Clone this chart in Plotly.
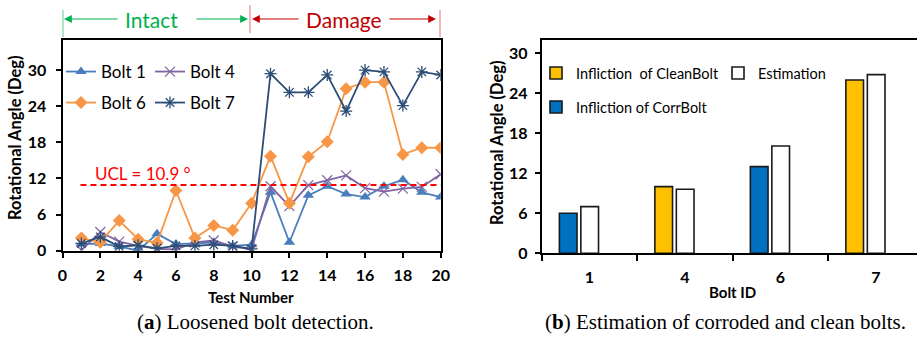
import plotly.graph_objects as go

# ---------------- data: (a) loosened bolt detection ----------------
test_number = list(range(1, 21))
bolt1 = [1.1, 1.2, 0.7, 0.0, 2.8, 1.1, 1.2, 1.4, 0.8, 1.0,
         9.7, 1.4, 9.2, 10.7, 9.4, 8.9, 10.7, 11.8, 9.7, 8.9]
bolt4 = [0.1, 3.1, 1.5, 0.8, 0.3, 0.2, 1.4, 1.7, 0.7, 0.2,
         10.7, 7.4, 10.9, 11.7, 12.5, 10.4, 9.8, 10.3, 10.6, 12.7]
bolt6 = [2.1, 1.4, 5.0, 1.9, 1.3, 10.0, 2.1, 4.2, 3.4, 7.9,
         15.7, 7.9, 15.6, 18.1, 26.9, 28.0, 28.0, 16.0, 17.1, 17.1]
bolt7 = [1.2, 2.3, 0.7, 0.9, 0.4, 0.8, 0.8, 1.0, 0.8, 0.3,
         29.4, 26.3, 26.3, 29.2, 23.2, 30.0, 29.7, 24.1, 29.7, 29.2]
ucl_value = 10.9
ucl_x = [0.95, 20]
left_xticks = list(range(0, 21, 2))
left_yticks = [0, 6, 12, 18, 24, 30]

# ---------------- data: (b) estimation of corroded and clean bolts ----------------
bolt_ids = ["1", "4", "6", "7"]
clean_infl = [None, 10.0, None, 26.0]
corr_infl = [6.0, None, 13.0, None]
estimation = [7.0, 9.6, 16.1, 26.8]
right_yticks = [0, 6, 12, 18, 24, 30]

W, H = 917, 338
def px(x):
    return x / W
def py(y):
    return (H - y) / H

SANS = "Lato, 'Open Sans', sans-serif"
SERIF = "'Liberation Serif', 'DejaVu Serif', serif"

fig = go.Figure()

# ---- left chart series ----
series = [
    ("Bolt 1", bolt1, "#4A7EBB", dict(symbol="triangle-up", size=10, color="#4A7EBB"), "legend"),
    ("Bolt 4", bolt4, "#8064A2", dict(symbol="x-thin-open", size=10, color="#8064A2",
                                      line=dict(width=1.2, color="#8064A2")), "legend"),
    ("Bolt 6", bolt6, "#F79646", dict(symbol="diamond", size=10, color="#F79646"), "legend2"),
    ("Bolt 7", bolt7, "#2C4D75", dict(symbol="asterisk-open", size=10, color="#2C4D75",
                                      line=dict(width=1.3, color="#2C4D75")), "legend2"),
]
for name, vals, col, mk, lg in series:
    fig.add_trace(go.Scatter(
        x=test_number, y=vals, name=name, mode="lines+markers",
        line=dict(color=col, width=1.8), marker=mk,
        xaxis="x", yaxis="y", legend=lg))

fig.add_trace(go.Scatter(
    x=ucl_x, y=[ucl_value, ucl_value], mode="lines", showlegend=False,
    line=dict(color="#FF0000", width=2, dash="6px,4px"), xaxis="x", yaxis="y"))

# ---- right chart bars ----
bw = 0.185
fig.add_trace(go.Bar(
    x=bolt_ids, y=clean_infl, name="Infliction  of CleanBolt",
    marker=dict(color="#FFC000", line=dict(color="#1a1a1a", width=1.6)),
    width=bw, offset=-0.315, xaxis="x2", yaxis="y2", legend="legend3", legendrank=1))
fig.add_trace(go.Bar(
    x=bolt_ids, y=estimation, name="Estimation",
    marker=dict(color="#FFFFFF", line=dict(color="#1a1a1a", width=1.6)),
    width=bw, offset=-0.09, xaxis="x2", yaxis="y2", legend="legend3", legendrank=2))
fig.add_trace(go.Bar(
    x=bolt_ids, y=corr_infl, name="Infliction of CorrBolt",
    marker=dict(color="#0070C0", line=dict(color="#1a1a1a", width=1.6)),
    width=bw, offset=-0.315, xaxis="x2", yaxis="y2", legend="legend4"))

tickfont = dict(family=SANS, size=16, color="#000000", weight="bold")

fig.update_layout(
    template="none",
    width=W, height=H, autosize=False,
    margin=dict(l=0, r=0, t=0, b=0, pad=0),
    paper_bgcolor="white", plot_bgcolor="white",
    barmode="overlay",
    xaxis=dict(domain=[px(62.5), px(440.7)], range=[0, 20], tickvals=left_xticks,
               showline=True, linecolor="black", linewidth=2, mirror=True,
               ticks="outside", ticklen=5, tickwidth=1.5, tickcolor="black",
               showgrid=False, zeroline=False, tickfont=tickfont, automargin=False,
               ticklabelstandoff=4, anchor="y"),
    yaxis=dict(domain=[py(250.7), py(40)], range=[0, 35], tickvals=left_yticks,
               showline=True, linecolor="black", linewidth=2, mirror=True,
               ticks="outside", ticklen=5, tickwidth=1.5, tickcolor="black",
               showgrid=False, zeroline=False, tickfont=tickfont, automargin=False,
               ticklabelstandoff=6, anchor="x"),
    xaxis2=dict(domain=[px(541.7), 1.0], range=[-0.5, 3.43], type="category",
                showline=True, linecolor="black", linewidth=2, mirror=True,
                ticks="outside", tickson="boundaries", ticklen=6, tickwidth=1.5,
                tickcolor="black", showgrid=False, zeroline=False, tickfont=tickfont,
                automargin=False, ticklabelstandoff=8, anchor="y2"),
    yaxis2=dict(domain=[py(253.3), py(40)], range=[0, 32], tickvals=right_yticks,
                showline=True, linecolor="black", linewidth=2, mirror=False,
                ticks="outside", ticklen=5, tickwidth=1.5, tickcolor="black",
                showgrid=False, zeroline=False, tickfont=tickfont, automargin=False,
                ticklabelstandoff=4, anchor="x2"),
    legend=dict(x=px(61), y=py(54), xanchor="left", yanchor="top",
                orientation="h", entrywidth=44, bgcolor="rgba(0,0,0,0)",
                font=dict(family=SANS, size=17, color="black")),
    legend2=dict(x=px(61), y=py(85), xanchor="left", yanchor="top",
                 orientation="h", entrywidth=44, bgcolor="rgba(0,0,0,0)",
                 font=dict(family=SANS, size=17, color="black")),
    legend3=dict(x=px(536), y=py(57), xanchor="left", yanchor="top",
                 orientation="h", entrywidth=137, bgcolor="rgba(0,0,0,0)",
                 font=dict(family=SANS, size=14.5, color="black")),
    legend4=dict(x=px(536), y=py(91), xanchor="left", yanchor="top",
                 orientation="h", bgcolor="rgba(0,0,0,0)",
                 font=dict(family=SANS, size=14.5, color="black")),
)

def text_ann(text, x, y, size, color="black", family=SANS, angle=0, xanchor="center"):
    return dict(text=text, x=px(x), y=py(y), xref="paper", yref="paper",
                xanchor=xanchor, yanchor="middle", showarrow=False, textangle=angle,
                font=dict(family=family, size=size, color=color))

ann = [
    text_ann("<b>Test Number</b>", 251, 297, 15),
    text_ann("<b>Rotational Angle (Deg)</b>", 15, 138, 16.5, angle=-90),
    text_ann("<b>Bolt ID</b>", 732, 292, 15),
    text_ann("<b>Rotational Angle (Deg)</b>", 497, 143, 16.5, angle=-90),
    text_ann("UCL = 10.9 °", 93, 173, 17, color="#FF0000", xanchor="left"),
    text_ann("Intact", 151, 20, 21, color="#00B050"),
    text_ann("Damage", 344, 20, 21, color="#C00000"),
    text_ann("(<b>a</b>) Loosened bolt detection.", 255, 322, 21, family=SERIF),
    text_ann("(<b>b</b>) Estimation of corroded and clean bolts.", 725, 322, 21, family=SERIF),
]

def arrow(xh, xt, y, col):
    return dict(x=px(xh), y=py(y), xref="paper", yref="paper", text="", showarrow=True,
                ax=xt - xh, ay=0, arrowhead=2, arrowsize=1.3, arrowwidth=1.2, arrowcolor=col)
ann.append(arrow(64, 119, 19, "#00B050"))
ann.append(arrow(248, 195, 19, "#00B050"))
ann.append(arrow(252, 300, 19, "#C00000"))
ann.append(arrow(436, 388, 19, "#C00000"))
fig.update_layout(annotations=ann)

shapes = [
    dict(type="line", xref="paper", yref="paper", x0=px(63), x1=px(63), y0=py(10), y1=py(37),
         line=dict(color="#7FD3A0", width=1.2)),
    dict(type="line", xref="paper", yref="paper", x0=px(250), x1=px(250), y0=py(5), y1=py(33),
         line=dict(color="#E88A8A", width=1.2)),
    dict(type="line", xref="paper", yref="paper", x0=px(440), x1=px(440), y0=py(10), y1=py(37),
         line=dict(color="#E88A8A", width=1.2)),
]
fig.update_layout(shapes=shapes)

fig.write_html("out.html")
